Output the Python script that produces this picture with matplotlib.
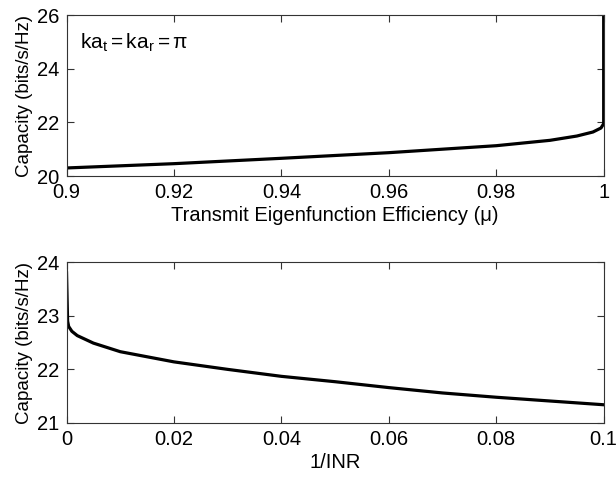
import matplotlib
matplotlib.use("Agg")
import matplotlib.pyplot as plt

plt.rcParams['font.family'] = ['Liberation Sans', 'DejaVu Sans']
plt.rcParams['mathtext.fontset'] = 'custom'
plt.rcParams['mathtext.rm'] = 'Liberation Sans'
plt.rcParams['mathtext.it'] = 'Liberation Sans'

# top panel: capacity vs transmit eigenfunction efficiency
mu = [0.9, 0.92, 0.94, 0.96, 0.98, 0.99, 0.995, 0.998, 0.9995, 1.0, 1.0]
cap_mu = [20.30, 20.46, 20.66, 20.87, 21.13, 21.33, 21.49, 21.64, 21.79, 21.95, 27.0]

# bottom panel: capacity vs 1/INR
inv_inr = [0.0, 0.0002, 0.0004, 0.001, 0.002, 0.005, 0.01, 0.02, 0.03,
           0.04, 0.05, 0.06, 0.07, 0.08, 0.09, 0.1]
cap_inr = [23.8, 22.9, 22.80, 22.71, 22.63, 22.49, 22.33, 22.14, 22.0,
           21.87, 21.77, 21.66, 21.56, 21.48, 21.41, 21.34]

fs = 14.5
fig = plt.figure(figsize=(6.16, 4.8), dpi=100)
ax1 = fig.add_axes([0.108, 0.6333, 0.872, 0.3354])
ax2 = fig.add_axes([0.108, 0.1188, 0.872, 0.335])

ax1.plot(mu, cap_mu, color='black', lw=2.3)
ax1.set_xlim(0.9, 1.0)
ax1.set_ylim(20, 26)
ax1.set_xticks([0.9, 0.92, 0.94, 0.96, 0.98, 1.0])
ax1.set_xticklabels(['0.9', '0.92', '0.94', '0.96', '0.98', '1'])
ax1.set_yticks([20, 22, 24, 26])
ax1.set_xlabel('Transmit Eigenfunction Efficiency (μ)', fontsize=fs, labelpad=3)
ax1.set_ylabel('Capacity (bits/s/Hz)', fontsize=13.5, labelpad=3)
ax1.text(0.025, 0.83, r'$\mathrm{ka_t = ka_r = \pi}$', transform=ax1.transAxes,
         fontsize=fs + 0.5, va='center', ha='left')

ax2.plot(inv_inr, cap_inr, color='black', lw=2.3)
ax2.set_xlim(0, 0.1)
ax2.set_ylim(21, 24)
ax2.set_xticks([0, 0.02, 0.04, 0.06, 0.08, 0.1])
ax2.set_xticklabels(['0', '0.02', '0.04', '0.06', '0.08', '0.1'])
ax2.set_yticks([21, 22, 23, 24])
ax2.set_xlabel('1/INR', fontsize=fs, labelpad=3)
ax2.set_ylabel('Capacity (bits/s/Hz)', fontsize=13.5, labelpad=3)

for ax in (ax1, ax2):
    ax.tick_params(direction='in', top=True, right=True, length=5,
                   width=0.8, labelsize=fs, pad=5, color='#333333')
    for s in ax.spines.values():
        s.set_linewidth(0.8)
        s.set_color('#333333')

fig.savefig('out.png', dpi=100)
